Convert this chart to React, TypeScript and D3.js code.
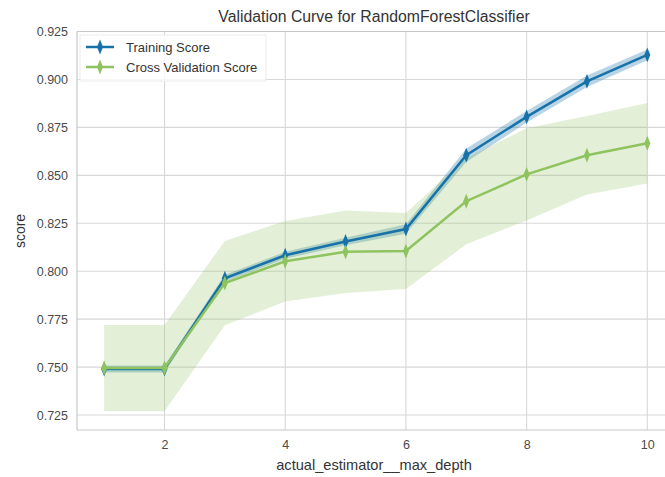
import * as d3 from "d3";
import { useRef, useEffect } from "react";

const depths = [1, 2, 3, 4, 5, 6, 7, 8, 9, 10];
const trainMean = [0.749, 0.749, 0.7963, 0.8083, 0.8155, 0.822, 0.8605, 0.8805, 0.899, 0.9128];
const trainStd = [0.0018, 0.0018, 0.0018, 0.0018, 0.002, 0.0025, 0.0035, 0.003, 0.003, 0.0028];
const cvMean = [0.7495, 0.7495, 0.7938, 0.8052, 0.8101, 0.8105, 0.8365, 0.8505, 0.8605, 0.8667];
const cvStd = [0.0225, 0.0225, 0.022, 0.021, 0.0215, 0.0198, 0.0225, 0.024, 0.0205, 0.021];
const xTicks = [2, 4, 6, 8, 10];
const yTicks = [0.725, 0.75, 0.775, 0.8, 0.825, 0.85, 0.875, 0.9, 0.925];

const W = 665;
const H = 477;
const left = 77;
const top = 31.5;
const bottom = 430;
const BLUE = "#1672a8";
const GREEN = "#8fc35f";
const FONT = "'Liberation Sans', Arial, sans-serif";

export default function App() {
  const x = d3.scaleLinear().domain([0.55, 10.45]).range([left, left + 9.9 * 60.35]);
  const y = d3.scaleLinear().domain([0.7172, 0.925]).range([bottom, top]);

  const gx = useRef(null);
  const gy = useRef(null);

  useEffect(() => {
    d3.select(gx.current)
      .call(d3.axisBottom(x).tickValues(xTicks).tickFormat(d3.format("d")).tickSize(0).tickPadding(10))
      .call((g) => g.select(".domain").remove())
      .call((g) =>
        g.selectAll(".tick text").attr("fill", "#4a4a4a").attr("font-size", 12.5).attr("font-family", FONT)
      );
    d3.select(gy.current)
      .call(d3.axisLeft(y).tickValues(yTicks).tickFormat(d3.format(".3f")).tickSize(0).tickPadding(9))
      .call((g) => g.select(".domain").remove())
      .call((g) =>
        g.selectAll(".tick text").attr("fill", "#4a4a4a").attr("font-size", 12.5).attr("font-family", FONT)
      );
  });

  const line = d3
    .line<number>()
    .x((_, i) => x(depths[i]))
    .y((d) => y(d));
  const band = (mean: number[], std: number[]) =>
    d3
      .area<number>()
      .x((_, i) => x(depths[i]))
      .y0((d, i) => y(d - std[i]))
      .y1((d, i) => y(d + std[i]))(mean);

  const diamond = d3.symbol(d3.symbolDiamond, 64)();
  const plotRight = W;

  const marker = (cx: number, cy: number, color: string, key: any) => (
    <path key={key} d={diamond!} transform={`translate(${cx},${cy}) scale(0.7,1)`} fill={color} />
  );

  return (
    <svg width={W} height={H} style={{ position: "absolute", left: 0, top: 0, background: "#fff" }}>
      <defs>
        <clipPath id="plot">
          <rect x={left} y={top} width={plotRight - left} height={bottom - top} />
        </clipPath>
      </defs>
      {/* grid */}
      <g stroke="#d8d8d8" strokeWidth={1.1}>
        {xTicks.map((t) => (
          <line key={t} x1={x(t)} x2={x(t)} y1={top} y2={bottom} />
        ))}
        {yTicks.map((t) => (
          <line key={t} x1={left} x2={plotRight} y1={y(t)} y2={y(t)} />
        ))}
      </g>
      <g stroke="#c8c8c8" strokeWidth={1.2} fill="none">
        <line x1={left} x2={left} y1={top} y2={bottom} />
        <line x1={left} x2={plotRight} y1={bottom} y2={bottom} />
        <line x1={left} x2={plotRight} y1={top} y2={top} />
      </g>
      <g clipPath="url(#plot)">
        <path d={band(trainMean, trainStd)!} fill={BLUE} fillOpacity={0.3} />
        <path d={band(cvMean, cvStd)!} fill={GREEN} fillOpacity={0.25} />
        <path d={line(trainMean)!} fill="none" stroke={BLUE} strokeWidth={2.5} />
        {trainMean.map((v, i) => marker(x(depths[i]), y(v), BLUE, "t" + i))}
        <path d={line(cvMean)!} fill="none" stroke={GREEN} strokeWidth={2.5} />
        {cvMean.map((v, i) => marker(x(depths[i]), y(v), GREEN, "c" + i))}
      </g>
      <g ref={gx} transform={`translate(0,${bottom})`} />
      <g ref={gy} transform={`translate(${left},0)`} />
      {/* legend */}
      <g fontFamily={FONT} fontSize={13} fill="#333">
        <rect x={80} y={35} width={186} height={46} fill="#fff" fillOpacity={0.8} stroke="#ececec" />
        <line x1={86} x2={114} y1={47} y2={47} stroke={BLUE} strokeWidth={2.5} />
        {marker(100, 47, BLUE, "lt")}
        <text x={126} y={52}>Training Score</text>
        <line x1={86} x2={114} y1={67} y2={67} stroke={GREEN} strokeWidth={2.5} />
        {marker(100, 67, GREEN, "lc")}
        <text x={126} y={72}>Cross Validation Score</text>
      </g>
      <text x={374} y={22} textAnchor="middle" fontFamily={FONT} fontSize={15.8} fill="#333">
        Validation Curve for RandomForestClassifier
      </text>
      <text x={374} y={470} textAnchor="middle" fontFamily={FONT} fontSize={14.6} fill="#333">
        actual_estimator__max_depth
      </text>
      <text
        transform={`translate(25,231) rotate(-90)`}
        textAnchor="middle"
        fontFamily={FONT}
        fontSize={14}
        fill="#333"
      >
        score
      </text>
    </svg>
  );
}
